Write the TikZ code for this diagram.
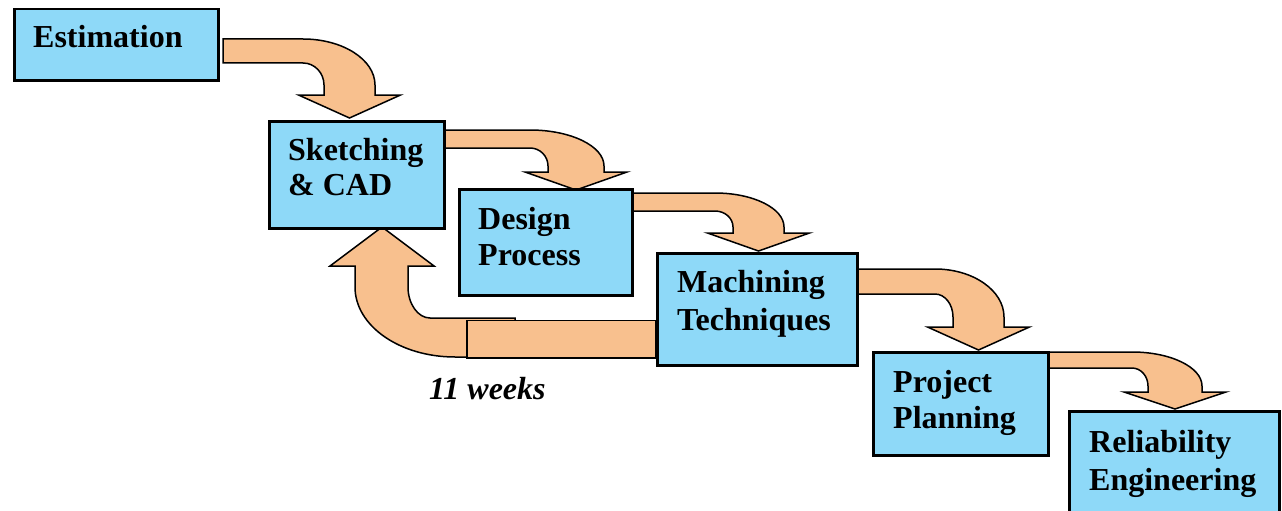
\documentclass[tikz,border=0pt]{standalone}
\usepackage{fontspec}
\setmainfont{Liberation Serif}
\definecolor{boxblue}{RGB}{142,217,248}
\definecolor{peach}{RGB}{248,192,142}
\newcommand\bentarrow[9]{%
  \draw[arrowshape] (#1,#2) -- (#4,#2)
    .. controls ({#4+0.552*(#6-#4)},#2) and (#6,{#7-0.552*(#7-#2)}) .. (#6,#7)
    -- (#6,#8) -- ({(#5+#6)/2+51},#8) -- ({(#5+#6)/2},#9) -- ({(#5+#6)/2-51},#8)
    -- (#5,#8) -- (#5,#7)
    .. controls (#5,{#7-0.552*(#7-#3)}) and ({#4+0.552*(#5-#4)},#3) .. (#4,#3)
    -- (#1,#3) -- cycle;}
\begin{document}
\begin{tikzpicture}[x=1pt,y=-1pt,
  arrowshape/.style={fill=peach,draw=black,line width=1.5pt,line join=miter},
  box/.style={draw=black,fill=boxblue,line width=2.5pt,inner sep=0pt,anchor=north west},
  lbl/.style={anchor=base west,inner sep=0pt,font=\fontsize{32}{36}\selectfont\bfseries},
  wlbl/.style={anchor=base west,inner sep=0pt,font=\fontsize{32}{36}\selectfont\bfseries\itshape}]
\clip (0,0) rectangle (1282,511);
% block arrows (drawn under the boxes)
\bentarrow{223}{39}{63}{303}{324}{375}{85}{95}{118}
\bentarrow{442}{130}{148}{530}{548}{604}{166}{172}{190}
\bentarrow{632}{193}{211}{715}{733}{784}{227}{233}{251}
\bentarrow{852}{269}{294}{935}{953}{1004}{317}{327}{350}
\bentarrow{1048}{352}{368}{1132}{1148}{1202}{386}{392}{409}
% feedback arrow
\draw[arrowshape] (515,318) -- (430,318) .. controls (418,318) and (408,304) .. (408,287)
  -- (408,266) -- (434,266) -- (382,227) -- (330,266) -- (355,266) -- (355,287)
  .. controls (355,326) and (400,357) .. (455,357) -- (515,357) -- cycle;
\node[draw=black,fill=peach,line width=1.8pt,inner sep=0pt,anchor=north west,
  minimum width=189pt,minimum height=37.5pt] (fb) at (466,319.5) {};
% boxes
\node[box,minimum width=204pt,minimum height=71pt] (est) at (13,8) {};
\node[box,minimum width=175pt,minimum height=107pt] (sk) at (268,120) {};
\node[box,minimum width=173pt,minimum height=106pt] (des) at (458,188) {};
\node[box,minimum width=200pt,minimum height=112pt] (mach) at (656,252) {};
\node[box,minimum width=175pt,minimum height=103pt] (proj) at (872,351) {};
\node[box,minimum width=210pt,minimum height=120pt] (rel) at (1068,410) {};
% labels
\node[lbl] (t1) at (33,48) {Estimation};
\node[lbl] (t2) at (288,160) {Sketching};
\node[lbl] (t3) at (288,195) {\& CAD};
\node[lbl] (t4) at (478,229) {Design};
\node[lbl] (t5) at (478,265) {Process};
\node[lbl] (t6) at (677,292) {Machining};
\node[lbl] (t7) at (677,330) {Techniques};
\node[lbl] (t8) at (893,392) {Project};
\node[lbl] (t9) at (893,428) {Planning};
\node[lbl] (t10) at (1089,452) {Reliability};
\node[lbl] (t11) at (1089,490) {Engineering};
\node[wlbl] (wk) at (429,399) {11 weeks};
\end{tikzpicture}
\end{document}
